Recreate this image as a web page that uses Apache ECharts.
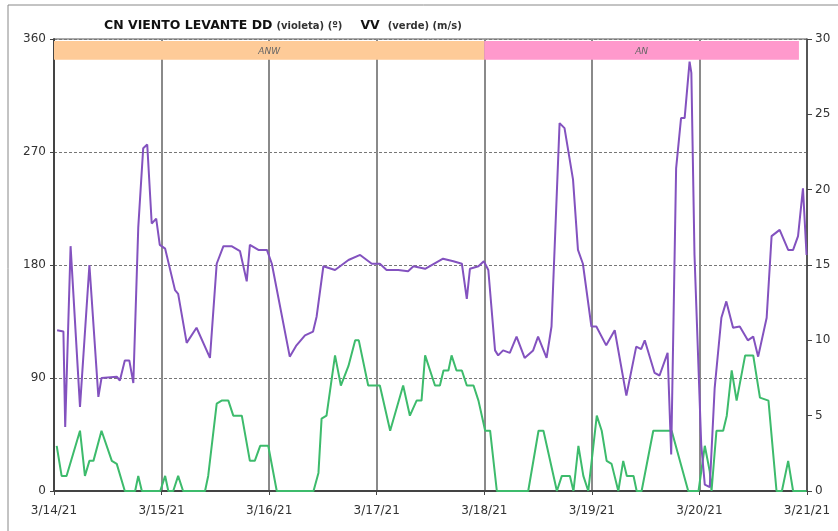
<!DOCTYPE html>
<html><head><meta charset="utf-8">
<script src="https://cdn.jsdelivr.net/npm/echarts@6/dist/echarts.min.js"></script>
<style>html,body{margin:0;padding:0;background:#fff}#c{width:838px;height:531px}</style>
</head><body><div id="c"></div>
<script>
// Tick labels (one per day, every 24 h)
const dayLabels = ['3/14/21','3/15/21','3/16/21','3/17/21','3/18/21','3/19/21','3/20/21','3/21/21'];
// Wind direction DD (degrees) — hours since 3/14/21 00:00 and values
const ddHours = [0.7,2.1,2.5,3.7,5.8,7.9,9.9,10.6,14,14.7,15.8,16.8,17.7,18.8,19.9,20.8,21.8,22.8,23.6,24.8,27,27.7,29.6,31.8,34.8,36.3,37.8,39.6,41.5,41.9,43,43.7,45.6,47.5,48.6,52.6,54.1,56,57.8,58.6,60.1,62.7,65.7,68.3,70.9,72.7,74.2,76.8,79,80.2,82.8,86.8,89.1,91,92.1,92.8,94.7,95.9,96.9,98.4,99.1,100.2,101.7,103.2,105,106.9,108,109.9,111,112.8,113.9,115.8,116.9,118,119.9,121,123.2,125.1,127.7,129.9,131,131.8,134,135.1,136.9,137.7,138.8,139.9,140.7,141.8,142.2,142.9,144.4,145.2,146.3,147.4,148.9,150,151.5,153,154.8,156,157.1,159,160.1,161.9,163.8,164.9,166,167.1,167.9];
const ddValues = [128,127,51,195,67,180,75,90,91,88,104,104,86,210,273,276,213,217,196,193,160,157,118,130,106,181,195,195,191,192,167,196,192,192,181,107,116,124,127,139,179,176,184,188,181,181,176,176,175,179,177,185,183,181,153,177,179,183,176,112,108,112,110,123,106,112,123,106,131,293,289,248,192,181,131,131,116,128,76,115,113,120,94,92,110,29,257,297,297,342,333,188,37,5,3,82,138,151,130,131,120,123,107,138,203,208,192,192,203,241,188];
// Wind speed VV (m/s)
const vvHours = [0.6,1.7,2.8,5.8,6.9,7.9,8.8,10.6,12.9,14,15.8,18.1,18.8,19.6,23.7,24.8,25.5,26.6,27.7,28.8,33.7,34.4,36.3,37.4,38.9,40,41.9,43.7,44.8,46,47.8,49.7,57.9,59,59.7,60.8,62.7,64,65.7,67.2,68,70.1,72.7,75,77.9,79.4,80.9,82,82.8,85,86.1,86.9,88,88.7,89.8,91,92.1,93.6,94.7,96.2,97.3,98.8,105.8,108.1,109.2,112.2,113.3,115.1,115.9,117,118.1,119.2,121.1,122.2,123.3,124.4,125.9,127,127.8,129.3,130,131.1,133.7,137.8,141.5,143.8,145.2,146.3,146.7,147.8,149.3,150.1,151.2,152.3,154.2,156,157.5,159.4,161.2,162.4,163.8,164.9,167.9];
const vvValues = [3,1,1,4,1,2,2,4,2,1.8,0,0,1,0,0,1,0,0,1,0,0,1,5.8,6,6,5,5,2,2,3,3,0,0,1.2,4.8,5,9,7,8.3,10,10,7,7,4,7,5,6,6,9,7,7,8,8,9,8,8,7,7,6,4,4,0,0,4,4,0,1,1,0,3,1,0,5,4,2,1.8,0,2,1,1,0,0,4,4,0,0,3,1.3,0,4,4,5,8,6,9,9,6.2,6,0,0,2,0,0];
// Band sections
const bandNames = ['ANW','AN'];
const bandStart = [0, 96];
const bandEnd = [96, 166.2];
const bandColors = ['#FECB98','#FF99CC'];

const pairs = (h, v) => h.map((x, i) => [x, v[i]]);
const chart = echarts.init(document.getElementById('c'));
const FONT = 'DejaVu Sans';
chart.setOption({
  animation: false,
  textStyle: {fontFamily: FONT},
  title: {
    left: 99, top: 12,
    text: '{b|CN VIENTO LEVANTE DD}{g1|}{n|(violeta) (º)}{g2|}{b|VV}{g3|}{n|(verde) (m/s)}',
    textStyle: {rich: {
      b: {fontWeight: 'bold', fontSize: 12.5, color: '#111', fontFamily: FONT},
      n: {fontSize: 10, color: '#333', fontFamily: FONT},
      g1: {width: 4}, g2: {width: 18}, g3: {width: 8}
    }}
  },
  graphic: [{type: 'rect', shape: {x: 8, y: 5, width: 900, height: 600}, style: {fill: 'none', stroke: '#888', lineWidth: 1}, silent: true}],
  grid: {left: 54, right: 31, top: 39, bottom: 40, show: true, borderColor: '#555', borderWidth: 1},
  xAxis: {
    type: 'value', min: 0, max: 168, interval: 24,
    axisLine: {lineStyle: {color: '#444', width: 2}},
    axisTick: {show: true, length: 4, lineStyle: {color: '#444'}},
    axisLabel: {color: '#333', fontSize: 12, margin: 14, formatter: v => dayLabels[Math.round(v / 24)]},
    splitLine: {show: true, lineStyle: {color: '#8a8a8a', width: 2}}
  },
  yAxis: [{
    type: 'value', min: 0, max: 360, interval: 90, position: 'left',
    axisLine: {show: true, lineStyle: {color: '#444', width: 2}},
    axisTick: {show: true, length: 4, lineStyle: {color: '#444'}},
    axisLabel: {color: '#333', fontSize: 12, margin: 8},
    splitLine: {show: true, lineStyle: {color: '#777', type: [3, 2], width: 1}}
  }, {
    type: 'value', min: 0, max: 30, interval: 5, position: 'right',
    axisLine: {show: true, lineStyle: {color: '#444', width: 1.5}},
    axisTick: {show: true, length: 5, lineStyle: {color: '#444'}},
    axisLabel: {color: '#333', fontSize: 12, margin: 8},
    splitLine: {show: false}
  }],
  series: [{
    name: 'VV', type: 'line', yAxisIndex: 1, data: pairs(vvHours, vvValues),
    showSymbol: false, lineStyle: {color: '#3DBB6C', width: 2}, itemStyle: {color: '#3DBB6C'}
  }, {
    name: 'DD', type: 'line', yAxisIndex: 0, data: pairs(ddHours, ddValues),
    showSymbol: false, lineStyle: {color: '#8352BF', width: 2}, itemStyle: {color: '#8352BF'},
    markArea: {
      silent: true,
      label: {position: 'inside', color: '#666', fontSize: 9, fontStyle: 'italic', offset: [0, 1]},
      data: bandNames.map((n, i) => [
        {name: n, xAxis: bandStart[i], yAxis: 343.5, itemStyle: {color: bandColors[i]}},
        {xAxis: bandEnd[i], yAxis: 358.5}
      ])
    }
  }]
});
</script></body></html>
